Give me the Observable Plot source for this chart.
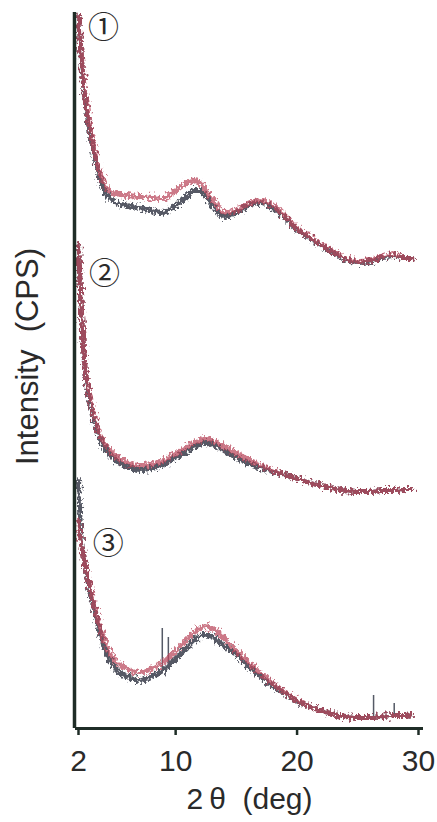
<!DOCTYPE html>
<html>
<head>
<meta charset="utf-8">
<script src="https://cdn.jsdelivr.net/npm/d3@7"></script>
<script src="https://cdn.jsdelivr.net/npm/@observablehq/plot@0.6"></script>
<style>
  html, body { margin: 0; padding: 0; background: #fff; }
  #chart svg { display: block; }
</style>
</head>
<body>
<div id="chart"></div>
<script>
// 2θ (deg) sample positions
const theta = [2.0, 2.2, 2.5, 3, 3.5, 4, 4.5, 5, 6, 7, 8, 9, 10, 11, 11.5, 12, 12.5, 13, 14, 15, 16, 17, 18, 19, 20, 21, 22, 23, 24, 25, 26, 27, 28, 29, 29.5];

// Intensity (arbitrary, stacked) for each sample: red and dark traces
const s1Red   = [713,678,638,598,568,548,538,535,533,532,531,530,538,546,548,546,538,530,516,518,525,528,523,513,500,492,484,477,470,467,468,472,474,470,470];
const s1Dark  = [713,676,633,593,563,542,531,526,523,521,518,516,523,533,538,538,532,523,512,516,523,526,521,511,499,491,483,476,469,466,467,471,473,470,470];
const s2Red   = [483,428,368,328,303,288,280,273,266,263,264,268,275,282,286,288,290,288,282,275,269,263,258,254,250,246,243,240,238,237,237,238,238,239,239];
const s2Dark  = [483,426,366,324,299,284,276,269,262,259,260,264,271,278,282,284,286,284,278,271,265,261,257,254,250,246,243,240,238,237,237,238,238,239,239];
const s3Red   = [208,188,168,138,113,93,78,68,60,56,60,66,78,90,96,100,102,100,90,78,66,55,45,36,28,22,18,14,12,11,11,12,13,13,14];
const s3Dark  = [248,193,168,134,109,85,70,60,52,48,52,58,70,82,88,92,94,92,82,74,62,52,43,35,27,22,18,14,12,11,11,12,13,13,14];

// sharp spikes on pattern ③ (dark trace)
const spikeTheta = [8.9, 9.4, 26.3, 28.0];
const spikeBase  = [58, 63, 11, 13];
const spikeTop   = [100, 91, 33, 25];

// pattern labels
const labels     = ["①", "②", "③"];
const labelTheta = [4.05, 4.15, 4.45];
const labelVal   = [700, 454, 184];

const xTicks = [2, 10, 20, 30];

const seriesList = [
  {name: "1-dark", trace: "dark", vals: s1Dark},
  {name: "2-dark", trace: "dark", vals: s2Dark},
  {name: "3-dark", trace: "dark", vals: s3Dark},
  {name: "1-red",  trace: "red",  vals: s1Red},
  {name: "2-red",  trace: "red",  vals: s2Red},
  {name: "3-red",  trace: "red",  vals: s3Red}
];
const rows = seriesList.flatMap(s => theta.map((t, i) => ({theta: t, v: s.vals[i], series: s.name, trace: s.trace})));
const darkRows = rows.filter(d => d.trace === "dark");
const redRows = rows.filter(d => d.trace === "red");
const spikes = spikeTheta.map((t, i) => ({theta: t, y1: spikeBase[i], y2: spikeTop[i]}));
const labelRows = labels.map((l, i) => ({text: l, theta: labelTheta[i], v: labelVal[i]}));

const axisColor = "#1f2d27";
const textColor = "#2a2a2a";

const chart = Plot.plot({
  width: 437,
  height: 822,
  marginTop: 12,
  marginBottom: 94,
  marginLeft: 75,
  marginRight: 14,
  style: {fontFamily: "Liberation Sans, Arial, sans-serif", background: "#fff"},
  x: {domain: [2, 30], range: [78, 418]},
  y: {domain: [0, 716], axis: null},
  marks: [
    Plot.line(darkRows, {x: "theta", y: "v", z: "series", stroke: "#2c2f3f", strokeWidth: 5, strokeOpacity: 0.8, curve: "monotone-x"}),
    Plot.ruleX(spikes, {x: "theta", y1: "y1", y2: "y2", stroke: "#555a66", strokeWidth: 1.5}),
    Plot.line(redRows, {x: "theta", y: "v", z: "series", stroke: "#b8455a", strokeWidth: 5, strokeOpacity: 0.72, curve: "monotone-x"}),
    Plot.ruleX([2], {dx: -4, stroke: axisColor, strokeWidth: 3.5}),
    Plot.ruleY([0], {stroke: axisColor, strokeWidth: 3}),
    Plot.axisX({ticks: xTicks, tickSize: 7, tickPadding: 14, fontSize: 30, stroke: axisColor, strokeWidth: 2.5, color: textColor, label: null, tickFormat: d => String(d)}),
    Plot.text(["2\u2009θ\u00a0\u00a0(deg)"], {frameAnchor: "bottom", dy: 80, fontSize: 30, fill: textColor}),
    Plot.text(["Intensity\u00a0\u00a0(CPS)"], {frameAnchor: "left", textAnchor: "middle", dx: -47, dy: -14, rotate: -90, fontSize: 31, fill: textColor}),
    Plot.text(labelRows, {x: "theta", y: "v", text: "text", fontSize: 31, fill: textColor, fontFamily: "Noto Sans CJK JP"})
  ]
});

// fuzzy, noisy look of the measured traces
const svg = d3.select(chart);
const defs = svg.insert("defs", ":first-child");
const f = defs.append("filter").attr("id", "fuzz")
  .attr("filterUnits", "userSpaceOnUse").attr("x", 0).attr("y", 0).attr("width", 437).attr("height", 822);
f.append("feTurbulence").attr("type", "fractalNoise").attr("baseFrequency", "0.45 0.3").attr("numOctaves", 2).attr("seed", 3).attr("result", "n");
f.append("feDisplacementMap").attr("in", "SourceGraphic").attr("in2", "n").attr("scale", 10).attr("xChannelSelector", "R").attr("yChannelSelector", "G");
svg.selectAll("g[aria-label='line']").attr("filter", "url(#fuzz)");

document.getElementById("chart").appendChild(chart);
</script>
</body>
</html>
